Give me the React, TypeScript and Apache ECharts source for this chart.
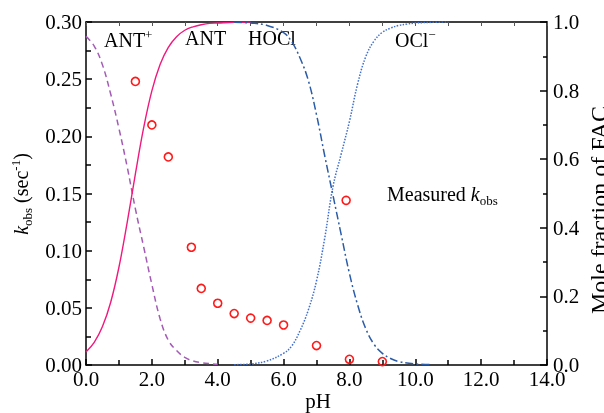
import React, { useEffect, useRef } from "react";
import * as echarts from "echarts";

// pH grid for the anthranilic acid (ANT) species curves
const phAnt = [0, 0.25, 0.5, 0.75, 1.0, 1.25, 1.5, 1.75, 2.0, 2.25, 2.5, 2.75, 3.0, 3.25, 3.5, 3.75, 4.0, 4.5, 5.0];
const antPlus = [0.958, 0.93, 0.875, 0.79, 0.69, 0.578, 0.455, 0.345, 0.235, 0.135, 0.072, 0.042, 0.022, 0.012, 0.007, 0.004, 0.002, null, null];
const antNeutral = [0.038, 0.066, 0.112, 0.183, 0.285, 0.415, 0.557, 0.691, 0.799, 0.876, 0.926, 0.957, 0.976, 0.986, 0.992, 0.996, 0.997, 0.999, 1.0];

// pH grid for the free available chlorine species curves
const phCl = [4.5, 5.0, 5.5, 6.0, 6.25, 6.5, 6.75, 7.0, 7.25, 7.5, 7.75, 8.0, 8.25, 8.5, 8.75, 9.0, 9.25, 9.5, 9.75, 10.0, 10.5, 11.0];
const hocl = [0.999, 0.997, 0.99, 0.969, 0.942, 0.895, 0.83, 0.73, 0.61, 0.495, 0.38, 0.267, 0.175, 0.105, 0.06, 0.034, 0.019, 0.01, 0.006, 0.003, 0.001, null];
const ocl = [0.001, 0.003, 0.012, 0.034, 0.056, 0.1, 0.16, 0.245, 0.37, 0.52, 0.615, 0.71, 0.82, 0.9, 0.945, 0.97, 0.982, 0.99, 0.994, 0.997, 0.999, 1.0];

// measured k_obs
const phMeasured = [1.5, 2.0, 2.5, 3.2, 3.5, 4.0, 4.5, 5.0, 5.5, 6.0, 7.0, 7.9, 8.0, 9.0];
const kObs = [0.248, 0.21, 0.182, 0.103, 0.067, 0.054, 0.045, 0.041, 0.039, 0.035, 0.017, 0.144, 0.005, 0.003];

const FONT = "Liberation Serif";

function pairs(xs: number[], ys: (number | null)[]) {
  const out: [number, number][] = [];
  xs.forEach((x, i) => {
    const y = ys[i];
    if (y !== null && y !== undefined) out.push([x, y]);
  });
  return out;
}

export default function App() {
  const ref = useRef<HTMLDivElement>(null);
  useEffect(() => {
    if (!ref.current) return;
    const chart = echarts.init(ref.current, null, { renderer: "svg" });
    const axisLine = { show: true, onZero: false, lineStyle: { color: "#000", width: 1.5 } };
    const tickStyle = { color: "#000", width: 1.5 };
    const rich = {
      m: { fontFamily: FONT, fontSize: 20, fill: "#000" },
      k: { fontFamily: FONT, fontSize: 20, fontStyle: "italic", fill: "#000" },
      sub: { fontFamily: FONT, fontSize: 13, fill: "#000", padding: [12, 0, 0, 0] },
      sup: { fontFamily: FONT, fontSize: 13, fill: "#000", padding: [0, 0, 12, 0] },
      big: { fontFamily: FONT, fontSize: 24, fill: "#000" },
      ph: { fontFamily: FONT, fontSize: 21, fill: "#000" },
    };
    const lbl = (digits: number, margin: number) => ({
      margin,
      formatter: (v: number) => "{a|" + v.toFixed(digits) + "}",
      rich: { a: { fontFamily: FONT, fontSize: 21, color: "#000" } },
    });
    chart.setOption({
      animation: false,
      textStyle: { fontFamily: FONT },
      grid: { left: 86, right: 57, top: 22, bottom: 48, containLabel: false },
      xAxis: [
        {
          type: "value",
          position: "bottom",
          min: 0,
          max: 14,
          interval: 2,
          axisLine,
          axisTick: { show: true, inside: true, length: 6, lineStyle: tickStyle },
          minorTick: { show: true, splitNumber: 2, length: 5, lineStyle: tickStyle },
          axisLabel: lbl(1, 3),
          splitLine: { show: false },
          minorSplitLine: { show: false },
        },
        {
          type: "value",
          position: "top",
          min: 0,
          max: 14,
          interval: 1,
          axisLine,
          axisTick: { show: true, inside: true, length: 4, lineStyle: { color: "#555", width: 1 } },
          axisLabel: { show: false },
          splitLine: { show: false },
        },
      ],
      yAxis: [
        {
          type: "value",
          position: "left",
          min: 0,
          max: 0.3,
          interval: 0.05,
          axisLine,
          axisTick: { show: true, inside: true, length: 6, lineStyle: tickStyle },
          minorTick: { show: true, splitNumber: 2, length: 5, lineStyle: tickStyle },
          axisLabel: lbl(2, 4),
          splitLine: { show: false },
        },
        {
          type: "value",
          position: "right",
          min: 0,
          max: 1,
          interval: 0.2,
          alignTicks: false,
          axisLine,
          axisTick: { show: true, inside: true, length: 7, lineStyle: tickStyle },
          minorTick: { show: true, splitNumber: 2, length: 4, lineStyle: tickStyle },
          axisLabel: lbl(1, 6),
          splitLine: { show: false },
        },
      ],
      series: [
        {
          name: "ANT+",
          type: "line",
          yAxisIndex: 1,
          data: pairs(phAnt, antPlus),
          smooth: 0.4,
          showSymbol: false,
          lineStyle: { color: "#a35bb5", width: 1.5, type: [6, 4] },
        },
        {
          name: "ANT",
          type: "line",
          yAxisIndex: 1,
          data: pairs(phAnt, antNeutral),
          smooth: 0.4,
          showSymbol: false,
          lineStyle: { color: "#f0197d", width: 1.4, type: "solid" },
        },
        {
          name: "HOCl",
          type: "line",
          yAxisIndex: 1,
          data: pairs(phCl, hocl),
          smooth: 0.4,
          showSymbol: false,
          lineStyle: { color: "#2b5ca8", width: 1.5, type: [8, 3, 2, 3] },
        },
        {
          name: "OCl-",
          type: "line",
          yAxisIndex: 1,
          data: pairs(phCl, ocl),
          smooth: 0.4,
          showSymbol: false,
          lineStyle: { color: "#3e6fd0", width: 1.5, type: [1.5, 1.5] },
        },
        {
          name: "Measured kobs",
          type: "scatter",
          yAxisIndex: 0,
          data: pairs(phMeasured, kObs),
          symbol: "circle",
          symbolSize: 8,
          itemStyle: { color: "rgba(255,255,255,0)", borderColor: "#ff1a1a", borderWidth: 1.6, opacity: 1 },
        },
      ],
      graphic: [
        { type: "text", x: 104, y: 40, style: { text: "{m|ANT}{sup|+}", rich, align: "left", verticalAlign: "middle" } },
        { type: "text", x: 185, y: 38, style: { text: "{m|ANT}", rich, align: "left", verticalAlign: "middle" } },
        { type: "text", x: 248, y: 38, style: { text: "{m|HOCl}", rich, align: "left", verticalAlign: "middle" } },
        { type: "text", x: 395, y: 40, style: { text: "{m|OCl}{sup|\u2212}", rich, align: "left", verticalAlign: "middle" } },
        { type: "text", x: 387, y: 194, style: { text: "{m|Measured }{k|k}{sub|obs}", rich, align: "left", verticalAlign: "middle" } },
        { type: "text", x: 318, y: 401, style: { text: "{ph|pH}", rich, align: "center", verticalAlign: "middle" } },
        {
          type: "text",
          x: 21,
          y: 194,
          rotation: Math.PI / 2,
          style: { text: "{k|k}{sub|obs}{m| (sec}{sup|-1}{m|)}", rich, align: "center", verticalAlign: "middle" },
        },
        {
          type: "text",
          x: 599,
          y: 210,
          rotation: Math.PI / 2,
          style: { text: "{big|Mole fraction of FAC}", rich, align: "center", verticalAlign: "middle" },
        },
      ],
    });
    return () => chart.dispose();
  }, []);
  return <div ref={ref} style={{ position: "fixed", left: 0, top: 0, width: 604, height: 413 }} />;
}
